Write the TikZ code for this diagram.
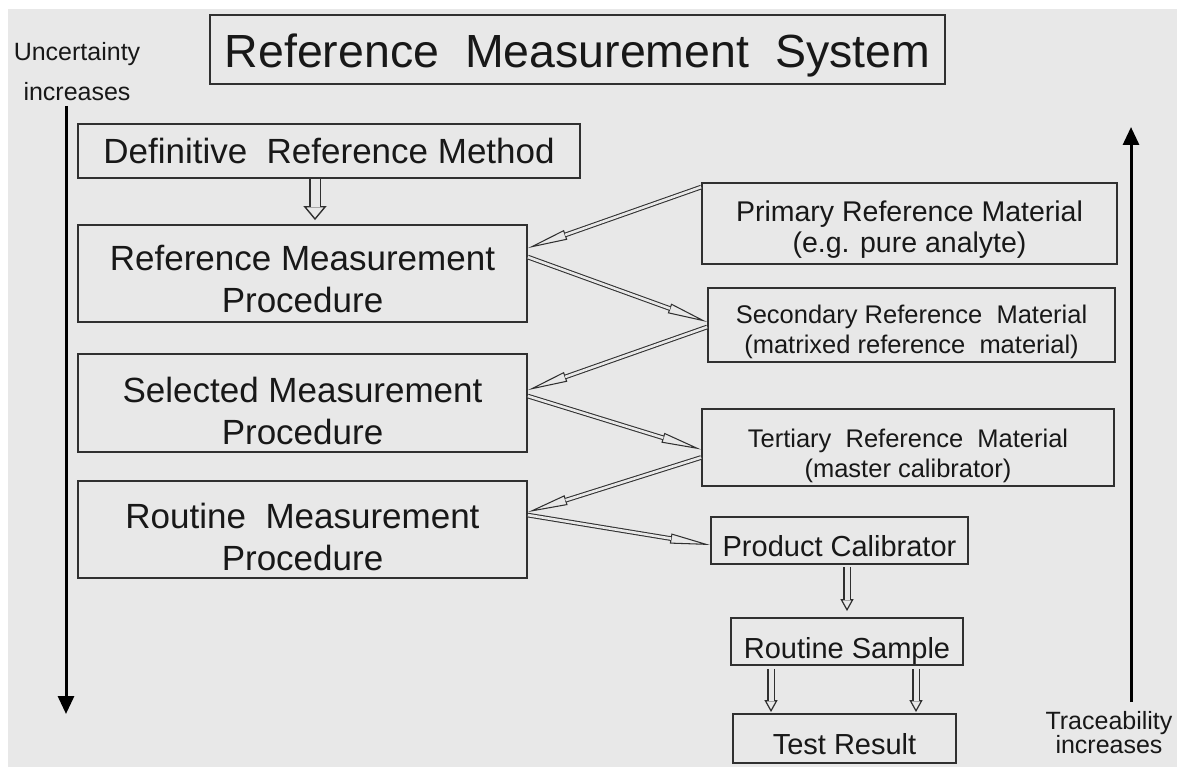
\documentclass[tikz,border=0pt]{standalone}
\usepackage{fontspec}
\setmainfont{Liberation Sans}
\usetikzlibrary{arrows.meta}
\definecolor{bg}{RGB}{232,232,232}
\definecolor{ink}{RGB}{24,24,24}
\definecolor{edge}{RGB}{48,48,48}
% a hollow connector: thin guide line with an open head, then a double shaft on top
\newcommand\hollowlink[3]{%
  \draw[#1 tip] (#2) -- (#3);
  \draw[#1 shaft] (#2) -- (#3);}
\begin{document}
\begin{tikzpicture}[x=1pt, y=-1pt,
  box/.style={draw=edge, line width=1.8pt, rectangle, inner sep=0pt},
  ttl/.style={text=ink, text height=33.3pt, text depth=0pt, font=\fontsize{46.5}{50}\selectfont},
  proc/.style={text=ink, align=center, font=\fontsize{35}{42}\selectfont},
  def/.style={text=ink, text height=25.1pt, text depth=0pt, font=\fontsize{35}{42}\selectfont},
  prim/.style={text=ink, align=center, font=\fontsize{28.5}{31}\selectfont},
  mat/.style={text=ink, align=center, font=\fontsize{25.5}{30}\selectfont},
  small/.style={text=ink, text height=20.8pt, text depth=0pt, font=\fontsize{29}{34}\selectfont},
  side/.style={text=ink, align=center},
  thin tip/.style={draw=edge, line width=1.05pt, -{Triangle[open, fill=bg, length=40pt, width=10pt]}},
  thin shaft/.style={draw=edge, line width=1.05pt, double=bg, double distance=2.6pt, shorten >=39.5pt},
  wide tip/.style={draw=edge, line width=1.4pt, -{Triangle[open, fill=bg, length=14pt, width=23pt]}},
  wide shaft/.style={draw=edge, line width=1.4pt, double=bg, double distance=9pt, shorten >=13.5pt},
  mid tip/.style={draw=edge, line width=1.2pt, -{Triangle[open, fill=bg, length=12pt, width=13pt]}},
  mid shaft/.style={draw=edge, line width=1.2pt, double=bg, double distance=5pt, shorten >=11.5pt},
  big/.style={draw=black, line width=3pt, -{Triangle[length=18pt, width=16pt]}}]

\useasboundingbox (0,0) rectangle (1177,767);
\fill[white] (0,0) rectangle (1177,767);
\fill[bg] (8,9) rectangle (1177,767);

% title
\node[box, minimum width=735, minimum height=69,
  label={[ttl, yshift=-1.5pt]center:Reference\ \ Measurement\ \ System}] (title) at (577.5,49.5) {};

% measurement methods and procedures
\node[box, minimum width=502, minimum height=54,
  label={[def]center:Definitive\ \ Reference Method}] (def) at (329,151) {};
\node[box, minimum width=449, minimum height=97,
  label={[proc, yshift=-5.5pt]center:{Reference Measurement\\Procedure}}] (rmp) at (302.5,273.5) {};
\node[box, minimum width=449, minimum height=98,
  label={[proc, yshift=-8pt]center:{Selected Measurement\\Procedure}}] (sel) at (302.5,403) {};
\node[box, minimum width=449, minimum height=97,
  label={[proc, yshift=-7.5pt]center:{Routine\ \ Measurement\\Procedure}}] (rtn) at (302.5,529.5) {};

% reference materials and calibrators
\node[box, minimum width=415, minimum height=81,
  label={[prim, yshift=-6.5pt]center:{Primary Reference Material\\(e.g. pure analyte)}}] (pri) at (909.5,223.5) {};
\node[box, minimum width=407, minimum height=74,
  label={[mat, yshift=-6.4pt]center:{Secondary Reference\ \ Material\\(matrixed reference\ \ material)}}] (sec) at (911.5,325) {};
\node[box, minimum width=412, minimum height=77,
  label={[mat, yshift=-8pt]center:{Tertiary\ \ Reference\ \ Material\\(master calibrator)}}] (ter) at (908,447.5) {};
\node[box, minimum width=257, minimum height=47,
  label={[small, yshift=-6pt]center:Product Calibrator}] (pc) at (839.5,540.5) {};
\node[box, minimum width=232, minimum height=47,
  label={[small, yshift=-6.5pt]center:Routine Sample}] (rs) at (847,641.5) {};
\node[box, minimum width=223, minimum height=49,
  label={[small, yshift=-6pt]center:Test Result}] (tr) at (844.5,738.5) {};

% side captions
\node[side, font=\fontsize{25}{40}\selectfont] (unc) at (77,72) {Uncertainty\\increases};
\node[side, font=\fontsize{25}{24}\selectfont] (trc) at (1109,733) {Traceability\\increases};

% direction arrows
\coordinate (uncTop) at (66,106);
\coordinate (uncEnd) at (66,714);
\draw[big] (uncTop) -- (uncEnd);
\coordinate (trcLow) at (1131,702);
\coordinate (trcEnd) at (1131,127);
\draw[big] (trcLow) -- (trcEnd);

% hierarchy links
\hollowlink{wide}{[xshift=-14pt]def.south}{[xshift=12.5pt,yshift=4pt]rmp.north}
\hollowlink{thin}{[yshift=-5pt]pri.north west}{[yshift=-24pt]rmp.north east}
\hollowlink{thin}{[yshift=-33pt]rmp.north east}{[yshift=3pt]sec.west}
\hollowlink{thin}{[yshift=-2pt]sec.west}{[yshift=-37pt]sel.north east}
\hollowlink{thin}{[yshift=-43pt]sel.north east}{[yshift=-2pt]ter.west}
\hollowlink{thin}{[yshift=-10pt]ter.west}{[yshift=-32pt]rtn.north east}
\hollowlink{thin}{[yshift=-35pt]rtn.north east}{[yshift=-4.5pt]pc.west}
\hollowlink{mid}{[xshift=7.5pt,yshift=-2pt]pc.south}{[yshift=6pt]rs.north}
\hollowlink{mid}{[xshift=-76pt,yshift=-3pt]rs.south}{[xshift=-73.5pt,yshift=1pt]tr.north}
\hollowlink{mid}{[xshift=69pt,yshift=-3pt]rs.south}{[xshift=71.5pt,yshift=1pt]tr.north}
\end{tikzpicture}
\end{document}
